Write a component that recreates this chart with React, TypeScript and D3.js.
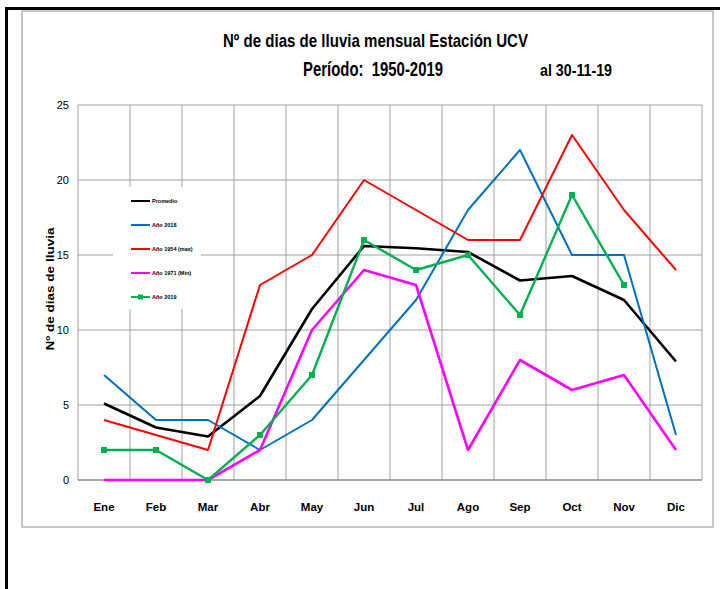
import React from 'react';
import * as d3 from 'd3';

// monthly rain days
const months = ['Ene', 'Feb', 'Mar', 'Abr', 'May', 'Jun', 'Jul', 'Ago', 'Sep', 'Oct', 'Nov', 'Dic'];
const promedio = [5.1, 3.5, 2.9, 5.6, 11.4, 15.6, 15.45, 15.2, 13.3, 13.6, 12.0, 7.9];
const anio2018 = [7, 4, 4, 2, 4, 8, 12, 18, 22, 15, 15, 3];
const anio1954 = [4, 3, 2, 13, 15, 20, 18, 16, 16, 23, 18, 14];
const anio1971 = [0, 0, 0, 2, 10, 14, 13, 2, 8, 6, 7, 2];
const anio2019 = [2, 2, 0, 3, 7, 16, 14, 15, 11, 19, 13];
const y_ticks = [0, 5, 10, 15, 20, 25];

const series = [
  { name: 'Promedio', values: promedio, color: '#000000', width: 2.6, marker: false },
  { name: 'Año 2018', values: anio2018, color: '#0070C0', width: 2, marker: false },
  { name: 'Año 1954 (max)', values: anio1954, color: '#FF0000', width: 2, marker: false },
  { name: 'Año 1971 (Min)', values: anio1971, color: '#FF00FF', width: 2.6, marker: false },
  { name: 'Año 2019', values: anio2019, color: '#00B050', width: 2.4, marker: true },
];

const narrow = '"Liberation Sans Narrow", "Liberation Sans", Arial, sans-serif';

export default function App() {
  const width = 720;
  const height = 589;
  const plot = { left: 78, right: 702, top: 105, bottom: 480 };

  const x = d3.scaleBand<string>().domain(months).range([plot.left, plot.right]);
  const cx = (i: number) => (x(months[i]) as number) + x.bandwidth() / 2;
  const y = d3.scaleLinear().domain([0, 25]).range([plot.bottom, plot.top]);

  const line = d3
    .line<number>()
    .x((_, i) => cx(i))
    .y((d) => y(d));

  const grid_x = months.map((m) => x(m) as number).concat([plot.right]);

  return (
    <div style={{ position: 'absolute', left: 0, top: 0 }}>
      <svg width={width} height={height} style={{ display: 'block', background: '#fff' }}>
        {/* outer frame */}
        <line x1={5} x2={720} y1={8.5} y2={8.5} stroke="#000" strokeWidth={3} />
        <line x1={6.5} x2={6.5} y1={7} y2={589} stroke="#000" strokeWidth={3} />
        {/* chart area */}
        <rect x={22} y={11} width={691} height={516} fill="#fff" stroke="#b5b5b5" strokeWidth={1.5} />

        {/* titles */}
        <text x={223} y={47} fontFamily={narrow} fontWeight="bold" fontSize={19} textLength={305} lengthAdjust="spacingAndGlyphs">
          Nº de dias de lluvia mensual Estación UCV
        </text>
        <text x={303} y={76} fontFamily={narrow} fontWeight="bold" fontSize={20} textLength={140} lengthAdjust="spacingAndGlyphs" style={{ whiteSpace: 'pre' }}>
          {'Período:  1950-2019'}
        </text>
        <text x={540} y={76} fontFamily={narrow} fontWeight="bold" fontSize={17} textLength={72} lengthAdjust="spacingAndGlyphs">
          al 30-11-19
        </text>

        {/* grid */}
        {y_ticks.slice(1).map((t) => (
          <line key={'h' + t} x1={plot.left} x2={plot.right} y1={y(t)} y2={y(t)} stroke="#a0a0a0" strokeWidth={1} />
        ))}
        {grid_x.map((gx, i) => (
          <line key={'v' + i} x1={gx} x2={gx} y1={plot.top} y2={plot.bottom} stroke="#a0a0a0" strokeWidth={1} />
        ))}
        <line x1={plot.left} x2={plot.right} y1={plot.bottom} y2={plot.bottom} stroke="#8c8c8c" strokeWidth={1.5} />

        {/* y ticks */}
        {y_ticks.map((t) => (
          <text key={'yt' + t} x={69} y={y(t) + 4} textAnchor="end" fontFamily={narrow} fontSize={11} fill="#000">
            {t}
          </text>
        ))}
        {/* x labels */}
        {months.map((m, i) => (
          <text key={m} x={cx(i)} y={511} textAnchor="middle" fontFamily={narrow} fontWeight="bold" fontSize={11.5} fill="#000">
            {m}
          </text>
        ))}
        {/* y axis title */}
        <text
          transform={`translate(54,289) rotate(-90)`}
          textAnchor="middle"
          fontFamily="Arial, 'Liberation Sans', sans-serif"
          fontWeight="bold"
          fontSize={11}
          textLength={123}
          lengthAdjust="spacingAndGlyphs"
        >
          Nº de dias de lluvia
        </text>

        {/* legend box */}
        <rect x={113} y={187} width={88} height={122} fill="#fff" />

        {/* series */}
        {series.map((s) => (
          <g key={s.name}>
            <path d={line(s.values) || ''} fill="none" stroke={s.color} strokeWidth={s.width} strokeLinejoin="round" />
            {s.marker &&
              s.values.map((v, i) => (
                <rect key={i} x={cx(i) - 3} y={y(v) - 3} width={6} height={6} fill={s.color} />
              ))}
          </g>
        ))}

        {/* legend entries */}
        {series.map((s, i) => {
          const ly = 201 + i * 24;
          return (
            <g key={'lg' + s.name}>
              <line x1={131} x2={150} y1={ly} y2={ly} stroke={s.color} strokeWidth={2} />
              {s.marker && <rect x={138} y={ly - 2.5} width={5} height={5} fill={s.color} />}
              <text x={152} y={ly + 2} fontFamily={narrow} fontWeight="bold" fontSize={5.5} fill="#000">
                {s.name}
              </text>
            </g>
          );
        })}
      </svg>
    </div>
  );
}
